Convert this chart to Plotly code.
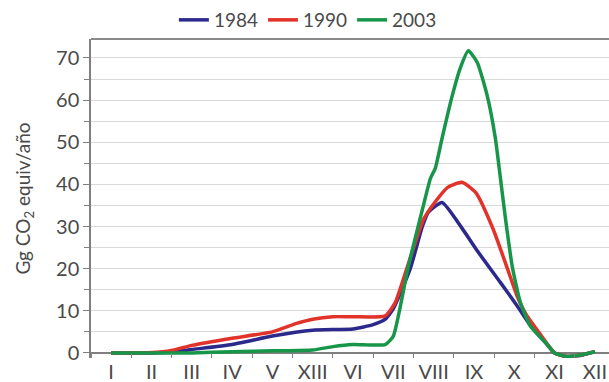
import plotly.graph_objects as go

# Month labels along the category axis (one per category slot)
month_labels = ["I", "II", "III", "IV", "V", "XIII", "VI", "VII", "VIII", "IX", "X", "XI", "XII"]

# Positions are given in month units (0 = first label, 12 = last label)
x_1984 = [0, 1.0, 1.5, 2.0, 3.0, 4.0, 5.0, 6.0, 6.5, 6.8, 7.0, 7.42, 7.72, 7.87, 8.21,
          8.71, 9.1, 9.65, 10.07, 10.4, 10.77, 11.0, 11.27, 11.64, 12.0]
y_1984 = [0, 0, 0.2, 0.8, 2.0, 4.0, 5.4, 5.7, 6.7, 8.0, 10.5, 20, 30, 33.4, 35.7,
          29.5, 24, 16.8, 11.2, 6.5, 2.5, 0, -0.8, -0.6, 0.3]

x_1990 = [0, 1.0, 1.5, 2.0, 3.0, 4.0, 4.6, 5.0, 5.5, 6.0, 6.8, 7.05, 7.4, 7.75, 8.05,
          8.35, 8.7, 9.05, 9.48, 9.83, 10.07, 10.3, 10.6, 11.0, 11.27, 11.64, 12.0]
y_1990 = [0, 0.1, 0.6, 1.8, 3.5, 5.0, 7.0, 8.0, 8.6, 8.6, 8.8, 12, 22, 31.7, 36,
          39.3, 40.5, 38, 29.3, 20, 13.5, 9, 5, 0, -0.8, -0.5, 0.3]

x_2003 = [0, 2.0, 3.0, 4.0, 5.0, 5.5, 6.0, 6.8, 7.0, 7.37, 7.72, 7.92, 8.04, 8.21,
          8.46, 8.66, 8.86, 9.08, 9.33, 9.53, 9.65, 9.78, 9.95, 10.15, 10.4, 10.82,
          11.0, 11.27, 11.64, 12.0]
y_2003 = [0, 0, 0.3, 0.5, 0.7, 1.5, 2.0, 2.0, 4, 20.5, 34, 41.4, 43.8, 51,
          61, 67.6, 71.7, 69, 61, 51, 42, 32, 20.5, 12, 6.4, 2,
          0, -0.8, -0.5, 0.3]

series = [
    ("1984", x_1984, y_1984, "#2b2a8c"),
    ("1990", x_1990, y_1990, "#e2332b"),
    ("2003", x_2003, y_2003, "#17964a"),
]

fig = go.Figure()
for name, xs, ys, color in series:
    fig.add_trace(go.Scatter(
        x=xs, y=ys, name=name, mode="lines",
        line=dict(color=color, width=3.5, shape="spline", smoothing=0.5),
    ))

font_family = "Lato, 'Open Sans', sans-serif"
text_color = "#4a4a4a"

fig.update_layout(
    width=609, height=382,
    margin=dict(l=91, r=0, t=39, b=24),
    paper_bgcolor="white", plot_bgcolor="white",
    font=dict(family=font_family, color=text_color),
    showlegend=True,
    legend=dict(
        orientation="h", x=0.16, xanchor="left", y=1.0, yanchor="bottom",
        font=dict(size=19, color=text_color), itemwidth=30,
        bgcolor="rgba(0,0,0,0)", tracegroupgap=0,
    ),
    xaxis=dict(
        range=[-0.5, 12.35],
        tickmode="array",
        tickvals=list(range(len(month_labels))),
        ticktext=month_labels,
        ticks="", showgrid=False, zeroline=False, showline=False,
        tickfont=dict(size=20, color=text_color),
        minor=dict(
            tickmode="array",
            tickvals=[i + 0.5 for i in range(-1, len(month_labels))],
            ticks="inside", ticklen=5, tickcolor="#7f7f7f", tickwidth=1.3,
            showgrid=False,
        ),
    ),
    yaxis=dict(
        range=[-1.2, 74.5],
        tickmode="linear", tick0=0, dtick=10,
        ticks="outside", ticklen=6, tickcolor="#7f7f7f", tickwidth=1.3,
        showline=True, linecolor="#7f7f7f", linewidth=1.5,
        showgrid=True, gridcolor="#d9d9d9", gridwidth=1.2,
        zeroline=True, zerolinecolor="#7f7f7f", zerolinewidth=1.5,
        tickfont=dict(size=20, color=text_color),
        minor=dict(
            tickmode="linear", tick0=0, dtick=5,
            ticks="outside", ticklen=5, tickcolor="#7f7f7f",
            showgrid=True, gridcolor="#d9d9d9", gridwidth=1.2,
        ),
        title=dict(
            text="Gg CO<sub>2</sub> equiv/año",
            font=dict(size=19, color=text_color),
            standoff=20,
        ),
    ),
    shapes=[
        dict(type="line", xref="paper", yref="paper", x0=0, x1=1, y0=1, y1=1,
             line=dict(color="#8a8a8a", width=2)),
    ],
)

fig.write_html("out.html")
